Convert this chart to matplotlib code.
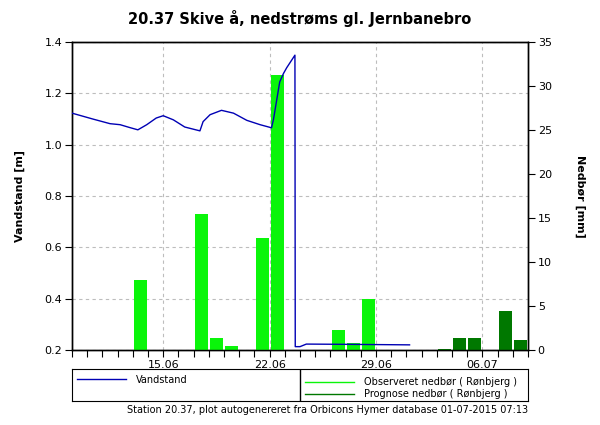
import matplotlib
matplotlib.use("Agg")
import matplotlib.pyplot as plt
import matplotlib.dates as mdates
from matplotlib.lines import Line2D
import pandas as pd

plt.rcParams["font.family"] = "DejaVu Sans"

C_LEVEL = "#0000B4"
C_OBS = "#0AF50A"
C_PROG = "#007800"
GRID = "#BDBDBD"

# water level (m)
level_time = [
    "2015-06-09 00:00", "2015-06-10 09:00", "2015-06-11 12:00", "2015-06-12 04:00",
    "2015-06-12 19:00", "2015-06-13 08:00", "2015-06-13 22:00", "2015-06-14 13:00",
    "2015-06-15 00:00", "2015-06-15 16:00", "2015-06-16 10:00", "2015-06-17 10:00",
    "2015-06-17 15:00", "2015-06-18 02:00", "2015-06-18 20:00", "2015-06-19 15:00",
    "2015-06-20 12:00", "2015-06-21 09:00", "2015-06-22 03:00", "2015-06-22 06:00",
    "2015-06-22 16:00", "2015-06-22 22:00", "2015-06-23 03:00", "2015-06-23 16:00",
    "2015-06-23 16:30", "2015-06-24 00:00", "2015-06-24 10:00", "2015-06-27 02:00",
    "2015-07-01 05:00",
]
level_m = [
    1.123, 1.100, 1.082, 1.078,
    1.067, 1.058, 1.078, 1.104,
    1.113, 1.097, 1.069, 1.054,
    1.090, 1.117, 1.134, 1.123,
    1.095, 1.078, 1.066, 1.097,
    1.245, 1.278, 1.300, 1.349,
    0.213, 0.213, 0.223, 0.222,
    0.220,
]

# daily precipitation (mm)
obs_day = ["2015-06-13", "2015-06-17", "2015-06-18", "2015-06-19", "2015-06-21",
           "2015-06-22", "2015-06-26", "2015-06-27", "2015-06-28"]
obs_mm = [8.0, 15.5, 1.4, 0.45, 12.7, 31.3, 2.3, 0.75, 5.8]
prog_day = ["2015-07-03", "2015-07-04", "2015-07-05", "2015-07-07", "2015-07-08"]
prog_mm = [0.1, 1.4, 1.4, 4.4, 1.1]

t_level = pd.to_datetime(level_time)
x_obs = mdates.date2num(pd.to_datetime(obs_day)) + 0.08
x_prog = mdates.date2num(pd.to_datetime(prog_day)) + 0.08

fig = plt.figure(figsize=(6, 4.25), dpi=100)
ax = fig.add_axes([0.12, 0.1765, 0.76, 0.7245])
ax2 = ax.twinx()
ax3 = ax.twinx()

ax.set_xlim(pd.Timestamp("2015-06-09"), pd.Timestamp("2015-07-09"))
ax.set_ylim(0.2, 1.4)
ax.set_yticks([0.2, 0.4, 0.6, 0.8, 1.0, 1.2, 1.4])
ax.yaxis.set_major_formatter(matplotlib.ticker.FormatStrFormatter("%.1f"))
ax.xaxis.set_major_locator(mdates.WeekdayLocator(byweekday=mdates.MO))
ax.xaxis.set_minor_locator(mdates.DayLocator())
ax.xaxis.set_major_formatter(mdates.DateFormatter("%d.%m"))
ax.grid(True, color=GRID, ls=(0, (3, 3)), lw=0.8)
ax.tick_params(which="both", direction="out", length=5, width=0.8, labelsize=8,
               colors="black", pad=2)
ax.set_ylabel("Vandstand [m]", fontsize=8, fontweight="bold", labelpad=14)

ax2.bar(x_obs, obs_mm, width=0.86, align="edge", color=C_OBS, zorder=2)
ax2.bar(x_prog, prog_mm, width=0.86, align="edge", color=C_PROG, zorder=2)
ax2.set_ylim(0, 35)
ax2.set_yticks(range(0, 36, 5))
ax2.tick_params(direction="out", length=5, width=0.8, labelsize=8, pad=2)
ax2.set_ylabel("Nedbør [mm]", fontsize=8, fontweight="bold", rotation=270,
               va="bottom", labelpad=17)

ax3.plot(t_level, level_m, color=C_LEVEL, lw=1.0)
ax3.set_ylim(0.2, 1.4)
ax3.axis("off")

for a in (ax, ax2):
    for s in a.spines.values():
        s.set_linewidth(1.0)

fig.text(0.5, 0.957, "20.37 Skive å, nedstrøms gl. Jernbanebro", ha="center", va="center",
         fontsize=10.5, fontweight="bold")

# legend box with a divider
lax = fig.add_axes([0.12, 0.0565, 0.76, 0.0753])
lax.set_xticks([])
lax.set_yticks([])
lax.axvline(0.5, color="black", lw=1.0)
h1 = [Line2D([], [], color=C_LEVEL, lw=1, label="Vandstand")]
h2 = [Line2D([], [], color=C_OBS, lw=1, label="Observeret nedbør ( Rønbjerg )"),
      Line2D([], [], color=C_PROG, lw=1, label="Prognose nedbør ( Rønbjerg )")]
leg1 = lax.legend(handles=h1, loc="upper left", bbox_to_anchor=(0, 0.97), frameon=False,
                  fontsize=7, handlelength=5.1, handletextpad=1.0, borderaxespad=0.2,
                  borderpad=0.3)
lax.add_artist(leg1)
lax.legend(handles=h2, loc="upper left", bbox_to_anchor=(0.5, 0.9), frameon=False,
           fontsize=7, handlelength=5.1, handletextpad=1.0, borderaxespad=0.2,
           borderpad=0.3, labelspacing=0.25)

fig.text(0.88, 0.035, "Station 20.37, plot autogenereret fra Orbicons Hymer database 01-07-2015 07:13",
         ha="right", va="center", fontsize=7)

fig.savefig("out.png", dpi=100)
